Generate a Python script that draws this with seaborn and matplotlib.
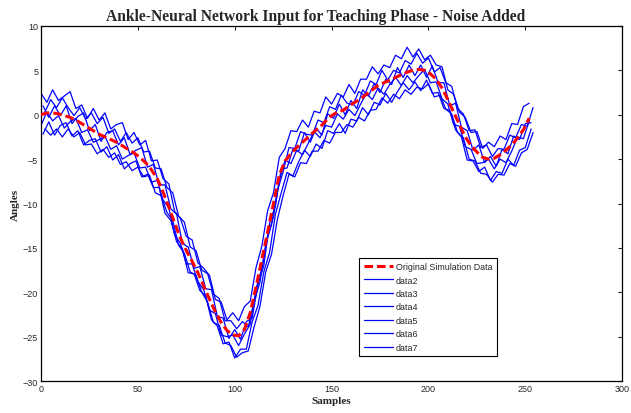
import pandas as pd
import matplotlib
matplotlib.use("Agg")
import matplotlib.pyplot as plt
import seaborn as sns

# sample indices (every 3rd sample, three staggered grids)
samples_a = list(range(0, 253, 3))
samples_b = list(range(1, 254, 3))
samples_c = list(range(2, 255, 3))

original = [0.0, 0.2, 0.2, 0.1, -0.1, -0.3, -0.6, -1.0, -1.4, -1.8, -2.2, -2.5, -2.8, -3.1, -3.5,
            -3.9, -4.3, -4.8, -5.4, -6.2, -7.2, -8.7, -10.4, -12.2, -13.9, -15.3, -16.5, -17.8, -19.3,
            -20.8, -22.2, -23.4, -24.3, -24.8, -24.9, -24.2, -22.3, -19.4, -16.3, -13.2, -10.0, -6.8,
            -5.2, -4.4, -3.7, -3.1, -2.5, -1.9, -1.4, -0.7, -0.1, 0.3, 0.5, 1.0, 1.4, 1.8, 2.3, 2.8,
            3.3, 3.6, 3.9, 4.2, 4.5, 4.8, 5.0, 5.1, 5.0, 4.6, 4.0, 3.0, 1.7, 0.3, -1.1, -2.5, -3.5,
            -4.2, -4.8, -5.0, -4.9, -4.5, -4.0, -3.4, -2.6, -1.7, -0.4]

data2 = [2.4, 1.4, 2.8, 1.6, 2.1, 2.6, 0.7, 1.1, -0.4, 0.7, -0.6, 0.2, -1.6, -1.1, -0.9, -2.8, -2.0,
         -3.4, -2.9, -5.2, -5.1, -7.2, -7.8, -10.9, -11.7, -13.7, -14.1, -16.7, -17.3, -18.1, -20.8,
         -21.1, -23.1, -22.3, -23.2, -21.6, -21.0, -17.2, -14.8, -10.8, -8.8, -4.8, -3.8, -1.8, -1.9,
         -0.6, -1.4, 0.4, 0.2, 2.0, 1.2, 2.4, 2.0, 3.4, 2.4, 4.0, 4.0, 5.4, 4.6, 5.6, 5.3, 6.7, 6.3,
         7.6, 6.5, 7.4, 6.2, 6.7, 5.6, 5.4, 2.8, 2.3, 0.3, -0.3, -2.0, -1.9, -3.8, -3.1, -3.6, -2.4,
         -2.8, -1.0, -1.1, 0.9, 1.3]

data3 = [-2.2, -0.8, -2.3, -1.2, -0.9, -2.4, -1.8, -3.4, -2.9, -2.7, -4.2, -3.6, -5.1, -4.5, -6.1,
         -5.5, -5.2, -7.0, -6.7, -8.2, -8.2, -11.1, -11.9, -14.3, -15.1, -17.8, -17.9, -19.8, -20.4,
         -23.1, -23.8, -25.8, -25.6, -27.4, -26.4, -26.4, -23.3, -21.5, -17.7, -15.5, -11.2, -8.8,
         -6.5, -6.9, -5.3, -4.0, -4.7, -3.3, -3.8, -1.8, -2.1, -1.0, -2.1, -0.5, -0.7, 0.8, 0.0, 1.4,
         1.1, 2.4, 1.4, 2.6, 3.6, 2.8, 3.7, 2.7, 3.9, 2.4, 2.5, 0.7, 0.5, -1.7, -2.5, -5.1, -5.2,
         -6.4, -5.9, -7.4, -6.4, -6.6, -5.0, -5.7, -4.0, -3.7, -1.6]

data4 = [0.3, 1.7, 0.8, 1.9, 0.8, -0.1, 0.8, -0.5, 0.2, -1.0, -0.3, -2.1, -1.6, -3.0, -2.0, -3.2,
         -2.6, -4.2, -4.1, -6.0, -6.1, -8.2, -8.8, -11.4, -12.1, -14.9, -15.3, -17.5, -17.9, -20.2,
         -20.7, -23.2, -23.2, -24.1, -23.3, -23.9, -21.0, -18.9, -14.6, -12.4, -8.6, -6.4, -3.7, -3.8,
         -1.9, -2.2, -2.3, -0.6, -0.9, 0.9, 0.6, 2.2, 1.3, 1.1, 2.6, 2.2, 3.8, 3.4, 5.0, 3.9, 5.0,
         4.7, 6.1, 5.7, 6.9, 5.8, 6.4, 4.8, 5.3, 3.6, 3.2, 0.7, 0.1, -1.8, -1.7, -3.7, -3.4, -4.7,
         -3.8, -3.9, -2.3, -2.6, -1.1, -1.3, 0.8]

data5 = [-1.2, 0.3, -0.7, -0.1, -1.5, -0.8, -0.4, -2.0, -1.7, -3.1, -2.8, -2.4, -3.9, -3.5, -5.0,
         -4.6, -4.3, -6.0, -5.9, -7.6, -7.4, -9.6, -10.5, -13.5, -14.5, -16.8, -16.8, -18.8, -19.7,
         -22.0, -22.4, -24.8, -25.0, -24.8, -26.0, -24.7, -23.6, -19.6, -17.3, -13.6, -11.5, -7.4,
         -5.1, -5.5, -4.0, -4.5, -3.2, -1.9, -2.6, -1.2, -1.4, 0.1, -0.5, 0.6, -0.1, 1.2, 2.4, 1.7,
         3.0, 2.3, 3.4, 4.2, 3.3, 4.4, 3.6, 4.4, 5.1, 3.6, 3.7, 1.8, 1.2, -1.1, -1.3, -3.6, -3.9,
         -5.5, -5.4, -5.0, -6.1, -5.0, -5.4, -4.1, -2.5, -2.7, -0.7]

data6 = [1.0, -0.3, 1.0, -0.1, 1.0, -1.0, -0.2, 0.2, -1.8, -1.1, -3.0, -2.0, -1.8, -3.4, -2.6, -4.5,
         -4.0, -3.7, -5.9, -5.6, -7.9, -7.9, -10.6, -11.2, -14.5, -14.9, -17.3, -17.1, -19.6, -19.7,
         -22.7, -22.9, -25.2, -24.2, -25.3, -23.3, -22.9, -19.1, -17.0, -12.2, -10.2, -6.1, -6.0,
         -3.9, -4.1, -2.0, -3.1, -1.5, -2.3, 0.1, -0.4, 1.2, 0.0, 1.6, 0.7, 2.8, 2.1, 3.5, 2.5, 4.0,
         3.4, 5.3, 4.2, 5.6, 4.4, 5.6, 4.2, 5.5, 3.6, 3.6, 1.0, 1.3, -1.4, -1.8, -4.0, -3.4, -5.4,
         -4.7, -5.8, -3.9, -4.4, -2.4, -2.8, -1.0, -0.9]

data7 = [-1.6, -2.3, -1.6, -2.5, -1.6, -2.5, -2.0, -3.4, -3.3, -4.4, -3.9, -4.8, -4.3, -5.6, -5.3,
         -6.3, -5.9, -7.0, -6.8, -8.8, -9.1, -11.0, -11.9, -14.7, -15.6, -17.7, -18.1, -20.0, -21.1,
         -23.4, -23.7, -25.7, -26.0, -27.3, -26.8, -26.6, -23.9, -21.6, -17.7, -15.7, -11.8, -9.1,
         -6.7, -7.0, -5.4, -5.5, -4.1, -4.1, -2.9, -3.2, -2.0, -2.0, -1.1, -1.4, -0.3, -0.7, 0.5, 0.6,
         1.9, 1.3, 2.3, 1.8, 2.8, 2.3, 3.1, 2.9, 3.5, 2.0, 2.2, 0.6, 0.1, -2.0, -2.6, -5.0, -5.2,
         -6.6, -6.7, -7.6, -6.7, -6.8, -5.5, -5.8, -4.3, -3.9, -2.0]

noisy = [("data2", samples_a, data2), ("data3", samples_b, data3), ("data4", samples_c, data4),
         ("data5", samples_a, data5), ("data6", samples_b, data6), ("data7", samples_c, data7)]

sns.set_style("white")
plt.rcParams["font.family"] = ["Liberation Sans", "DejaVu Sans"]

fig = plt.figure(figsize=(6.31, 4.14), dpi=100)
ax = fig.add_axes([0.065, 0.077, 0.921, 0.858])

for name, xs, vals in noisy:
    sns.lineplot(x=xs, y=vals, ax=ax, color="blue", linewidth=0.9,
                 label=name, estimator=None, sort=False)

sns.lineplot(x=samples_a, y=original, ax=ax, color="red", linewidth=2.2,
             label="Original Simulation Data", estimator=None, sort=False, zorder=5)
ax.lines[-1].set_dashes((2.8, 1.3))

ax.set_xlim(0, 300)
ax.set_ylim(-30, 10)
ax.set_xticks(range(0, 301, 50))
ax.set_yticks(range(-30, 11, 5))
ax.tick_params(direction="in", length=3, width=0.8, labelsize=6.5,
               top=True, right=True, pad=2)
for s in ax.spines.values():
    s.set_color("black")
    s.set_linewidth(0.9)

ax.set_title("Ankle-Neural Network Input for Teaching Phase - Noise Added",
             fontfamily="Liberation Serif", fontweight="bold", fontsize=11.2, pad=4, x=0.472)
ax.set_xlabel("Samples", fontfamily="Liberation Serif", fontweight="bold", fontsize=8, labelpad=2)
ax.set_ylabel("Angles", fontfamily="Liberation Serif", fontweight="bold", fontsize=8, labelpad=2)

handles, labels = ax.get_legend_handles_labels()
handles = [handles[-1]] + handles[:-1]
labels = [labels[-1]] + labels[:-1]
leg = ax.legend(handles, labels, loc="upper left", bbox_to_anchor=(0.540, 0.360),
                fontsize=6.4, frameon=True, fancybox=False, framealpha=1,
                edgecolor="black", handlelength=3.3, labelspacing=0.5,
                borderpad=0.5, handletextpad=0.3)
leg.get_frame().set_linewidth(0.8)

fig.savefig("out.png", dpi=100)
